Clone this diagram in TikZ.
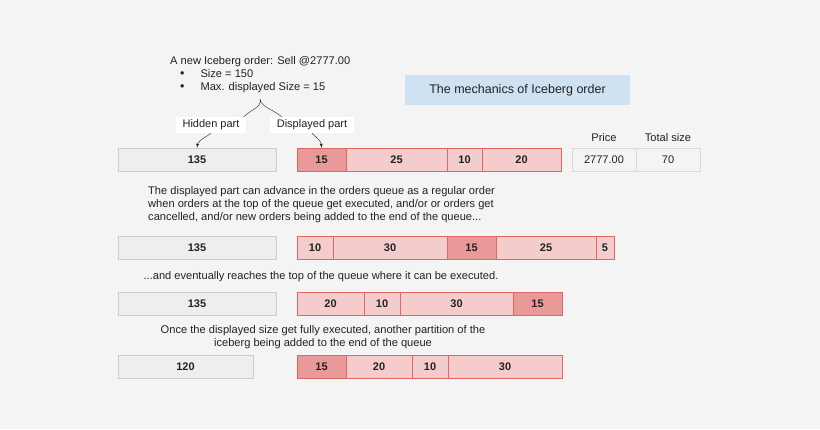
\documentclass[tikz,border=0pt]{standalone}
\usepackage{fontspec}
\setmainfont{Liberation Sans}
\usepackage{tikz}
\usetikzlibrary{calc}

\definecolor{bggrey}{HTML}{F4F4F4}
\definecolor{hidfill}{HTML}{EEEEEE}
\definecolor{hidline}{HTML}{CCCCCC}
\definecolor{lightred}{HTML}{F4CCCC}
\definecolor{darkred}{HTML}{EA9999}
\definecolor{redline}{HTML}{E06666}
\definecolor{titleblue}{HTML}{CFE2F3}
\definecolor{cellline}{HTML}{D9D9D9}
\definecolor{ink}{HTML}{222222}

\newcommand{\dotitem}{\hspace*{10pt}{\fontsize{12.5}{13}\selectfont\textbullet}\hspace{16pt}}

\tikzset{
  hidden/.style={draw=hidline, fill=hidfill, minimum height=23, inner sep=0,
    font=\fontsize{11}{13}\selectfont\bfseries},
  shown/.style={draw=redline, fill=lightred, minimum height=23, inner sep=0,
    font=\fontsize{11}{13}\selectfont\bfseries},
  iceberg/.style={shown, fill=darkred},
  cell/.style={draw=cellline, fill=bggrey, minimum height=23, minimum width=64,
    inner sep=0, font=\fontsize{11}{13}\selectfont},
  note/.style={inner sep=0, align=left, font=\fontsize{11.1}{13}\selectfont},
  tag/.style={fill=white, inner xsep=7, inner ysep=3,
    font=\fontsize{11}{13}\selectfont}
}

\begin{document}
\begin{tikzpicture}[x=1pt, y=-1pt, text=ink]
  \fill[bggrey] (0, 0) rectangle (820, 429);
  \useasboundingbox (0, 0) rectangle (820, 429);

  \node[note, anchor=north west]
    (order) at (170, 56) {A new Iceberg order: Sell @2777.00\\
      \dotitem Size = 150\\
      \dotitem Max. displayed Size = 15};

  \node[fill=titleblue, minimum width=225, minimum height=30,
    font=\fontsize{12.5}{15}\selectfont]
    (title) at (517.5, 90) {The mechanics of Iceberg order};

  \coordinate (tip) at (260, 99);

  \draw[ink, thin]
    (tip) .. controls (262, 109) and (250, 108) .. (240, 121)
    (tip) .. controls (262, 109) and (274, 108) .. (286, 121);

  \node[tag] (hid) at (211, 125) {Hidden part};
  \node[tag] (disp) at (312, 125) {Displayed part};

  % first row
  \node[hidden, minimum width=158] (g1) at (197, 159.5) {135};
  \node[iceberg, minimum width=49] (r1a) at (321.5, 159.5) {15};
  \node[shown, minimum width=101] (r1b) at (396.5, 159.5) {25};
  \node[shown, minimum width=35] (r1c) at (464.5, 159.5) {10};
  \node[shown, minimum width=79] (r1d) at (521.5, 159.5) {20};

  \node[note] (price) at (604, 138) {Price};
  \node[note] (total) at (668, 138) {Total size};
  \node[cell] (p1) at (604, 159.5) {2777.00};
  \node[cell] (p2) at (668, 159.5) {70};

  \draw[->, >=latex, ink, thin]
    (hid.south) .. controls (204, 138) and (198, 141) .. (g1.north);
  \draw[->, >=latex, ink, thin]
    (disp.south) .. controls (317, 138) and (321, 141) .. (r1a.north);

  \node[note, anchor=north west]
    (adv) at (148, 186) {The displayed part can advance in the orders queue as a regular order\\
      when orders at the top of the queue get executed, and/or or orders get\\
      cancelled, and/or new orders being added to the end of the queue...};

  % second row
  \node[hidden, minimum width=158] (g2) at (197, 247.5) {135};
  \node[shown, minimum width=36] (r2a) at (315, 247.5) {10};
  \node[shown, minimum width=114] (r2b) at (390, 247.5) {30};
  \node[iceberg, minimum width=49] (r2c) at (471.5, 247.5) {15};
  \node[shown, minimum width=100] (r2d) at (546, 247.5) {25};
  \node[shown, minimum width=18] (r2e) at (605, 247.5) {5};

  \node[note] (top) at (321, 277)
    {...and eventually reaches the top of the queue where it can be executed.};

  % third row
  \node[hidden, minimum width=158] (g3) at (197, 303.5) {135};
  \node[shown, minimum width=67] (r3a) at (330.5, 303.5) {20};
  \node[shown, minimum width=36] (r3b) at (382, 303.5) {10};
  \node[shown, minimum width=113] (r3c) at (456.5, 303.5) {30};
  \node[iceberg, minimum width=49] (r3d) at (537.5, 303.5) {15};

  \node[note, align=center] (refill) at (323, 337.5)
    {Once the displayed size get fully executed, another partition of the\\
      iceberg being added to the end of the queue};

  % fourth row
  \node[hidden, minimum width=135] (g4) at (185.5, 366.5) {120};
  \node[iceberg, minimum width=49] (r4a) at (321.5, 366.5) {15};
  \node[shown, minimum width=66] (r4b) at (379, 366.5) {20};
  \node[shown, minimum width=36] (r4c) at (430, 366.5) {10};
  \node[shown, minimum width=114] (r4d) at (505, 366.5) {30};
\end{tikzpicture}
\end{document}
